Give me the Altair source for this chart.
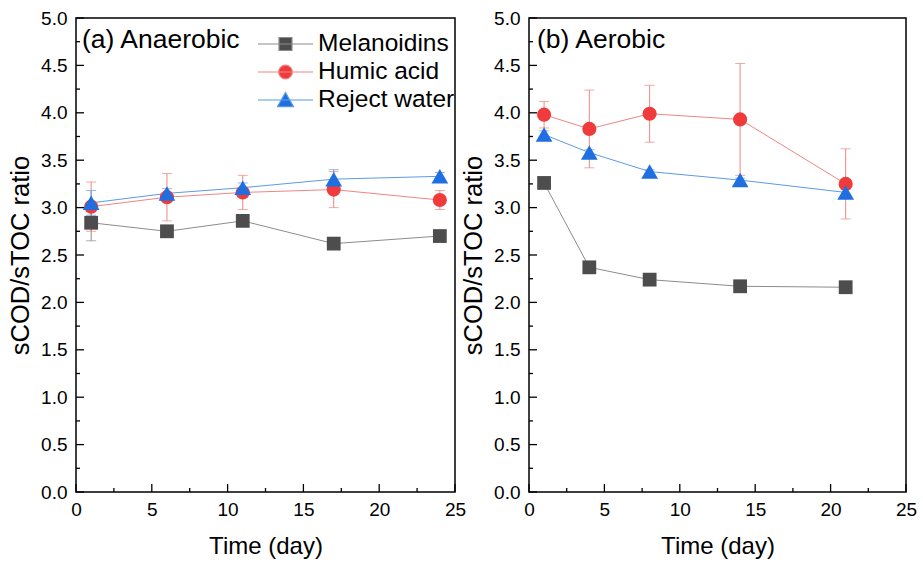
import altair as alt
import pandas as pd

# ---------------- data ----------------
series = ["Melanoidins", "Humic acid", "Reject water"]

days_a = [1, 6, 11, 17, 24]
mel_a = [2.84, 2.75, 2.86, 2.62, 2.70]
mel_a_sd = [0.19, 0.03, 0.03, 0.03, 0.03]
hum_a = [3.01, 3.11, 3.16, 3.19, 3.08]
hum_a_sd = [0.26, 0.25, 0.18, 0.19, 0.10]
rej_a = [3.05, 3.15, 3.21, 3.30, 3.33]
rej_a_sd = [0.13, 0.05, 0.05, 0.10, 0.04]

days_b = [1, 4, 8, 14, 21]
mel_b = [3.26, 2.37, 2.24, 2.17, 2.16]
mel_b_sd = [0.03, 0.03, 0.02, 0.02, 0.02]
hum_b = [3.98, 3.83, 3.99, 3.93, 3.25]
hum_b_sd = [0.14, 0.41, 0.30, 0.59, 0.37]
rej_b = [3.77, 3.58, 3.38, 3.29, 3.16]
rej_b_sd = [0.04, 0.03, 0.02, 0.02, 0.03]

x_major = [0, 5, 10, 15, 20, 25]
x_minor = [2.5, 7.5, 12.5, 17.5, 22.5]
y_major = [0.0, 0.5, 1.0, 1.5, 2.0, 2.5, 3.0, 3.5, 4.0, 4.5, 5.0]
y_minor = [0.25, 0.75, 1.25, 1.75, 2.25, 2.75, 3.25, 3.75, 4.25, 4.75]

panel_labels = ["(a) Anaerobic", "(b) Aerobic"]
x_title = "Time (day)"
y_title = "sCOD/sTOC ratio"

# ---------------- styles ----------------
marker_colors = ["#4d4d4d", "#ef3b3b", "#1f6fe0"]
line_colors = ["#8c8c8c", "#f08585", "#5b9be6"]
marker_shapes = ["square", "circle", "triangle-up"]
marker_sizes = [190, 200, 280]
legend_paths = [
    "M-1,0H1M-0.236,-0.236H0.236V0.236H-0.236Z",
    "M-1,0H1M0.25,0A0.25,0.25,0,1,1,-0.25,0A0.25,0.25,0,1,1,0.25,0Z",
    "M-1,0H1M0,-0.27L0.29,0.24L-0.29,0.24Z",
]
FONT = "Liberation Sans"
H = 474


def xenc(field):
    return alt.X(field, type="quantitative", title=x_title,
                 scale=alt.Scale(domain=[0, 25], nice=False, zero=False),
                 axis=alt.Axis(values=x_major, labelPadding=8, titlePadding=15, labelFlush=False))


def yenc(field):
    return alt.Y(field, type="quantitative", title=y_title,
                 scale=alt.Scale(domain=[0, 5], nice=False, zero=False),
                 axis=alt.Axis(values=y_major, format=".1f", labelPadding=9, titlePadding=7,
                               labelFlush=False, titleFontSize=25.5))


def panel(days, vals, sds, label, with_legend, label_x, width):
    rows = []
    for s, v, sd in zip(series, vals, sds):
        for d, y, e in zip(days, v, sd):
            rows.append(dict(series=s, day=d, value=y, lo=y - e, hi=y + e))
    df = pd.DataFrame(rows)
    base = alt.Chart(df)

    lines, errs, pts = [], [], []
    for s, lc, mc, shp, sz in zip(series, line_colors, marker_colors, marker_shapes, marker_sizes):
        b = base.transform_filter(alt.datum.series == s)
        lines.append(b.mark_line(strokeWidth=1, color=lc).encode(x=xenc("day"), y=yenc("value")))
        errs.append(b.mark_rule(strokeWidth=1, color=lc).encode(x=xenc("day"), y=yenc("lo"), y2="hi:Q"))
        errs.append(b.mark_tick(orient="horizontal", thickness=1, size=10, color=lc).encode(
            x=xenc("day"), y=yenc("hi")))
        errs.append(b.mark_tick(orient="horizontal", thickness=1, size=10, color=lc).encode(
            x=xenc("day"), y=yenc("lo")))
        pts.append(b.mark_point(filled=True, shape=shp, size=sz, opacity=1, color=mc).encode(
            x=xenc("day"), y=yenc("value")))

    xt = alt.Chart(pd.DataFrame({"t": x_major})).mark_rule(color="black", strokeWidth=1.3).encode(
        x=xenc("t"), y=alt.value(H), y2=alt.value(H - 8))
    xtm = alt.Chart(pd.DataFrame({"t": x_minor})).mark_rule(color="black", strokeWidth=1.3).encode(
        x=xenc("t"), y=alt.value(H), y2=alt.value(H - 4))
    yt = alt.Chart(pd.DataFrame({"t": y_major})).mark_rule(color="black", strokeWidth=1.3).encode(
        y=yenc("t"), x=alt.value(0), x2=alt.value(8))
    ytm = alt.Chart(pd.DataFrame({"t": y_minor})).mark_rule(color="black", strokeWidth=1.3).encode(
        y=yenc("t"), x=alt.value(0), x2=alt.value(4))

    txt = alt.Chart(pd.DataFrame({"label": [label]})).mark_text(
        align="left", baseline="alphabetic", fontSize=26.5, font=FONT, color="black"
    ).encode(x=alt.value(label_x), y=alt.value(30), text="label:N")

    layers = lines + errs + pts + [xt, xtm, yt, ytm, txt]

    if with_legend:
        leg = alt.Legend(
            orient="none", legendX=181, legendY=12, title=None,
            labelFontSize=24.5, labelFont=FONT, labelColor="black",
            symbolSize=3025, symbolStrokeWidth=1.2, symbolOpacity=1,
            clipHeight=28, rowPadding=0, labelOffset=4, padding=0, labelLimit=400,
        )
        legend_layer = base.mark_point(filled=True, opacity=0).encode(
            x=xenc("day"), y=yenc("value"),
            fill=alt.Fill("series:N", scale=alt.Scale(domain=series, range=marker_colors), legend=leg),
            stroke=alt.Stroke("series:N", scale=alt.Scale(domain=series, range=line_colors), legend=leg),
            shape=alt.Shape("series:N", scale=alt.Scale(domain=series, range=legend_paths), legend=leg),
        )
        layers.append(legend_layer)

    return alt.layer(*layers).properties(width=width, height=H)


left = panel(days_a, [mel_a, hum_a, rej_a], [mel_a_sd, hum_a_sd, rej_a_sd],
             panel_labels[0], True, 6, 379)
right = panel(days_b, [mel_b, hum_b, rej_b], [mel_b_sd, hum_b_sd, rej_b_sd],
              panel_labels[1], False, 8, 377)

chart = (
    alt.hconcat(left, right, spacing=74, bounds="flush")
    .properties(padding={"left": 7, "top": 8, "right": 5, "bottom": 4}, background="white")
    .configure_view(stroke="black", strokeWidth=1.5)
    .configure_axis(
        labelFont=FONT, titleFont=FONT, labelFontSize=19, titleFontSize=24,
        titleFontWeight="normal", labelColor="black", titleColor="black",
        grid=False, ticks=False, domain=False,
    )
)

chart.save("out.html", embed_options={"renderer": "svg", "actions": False})
